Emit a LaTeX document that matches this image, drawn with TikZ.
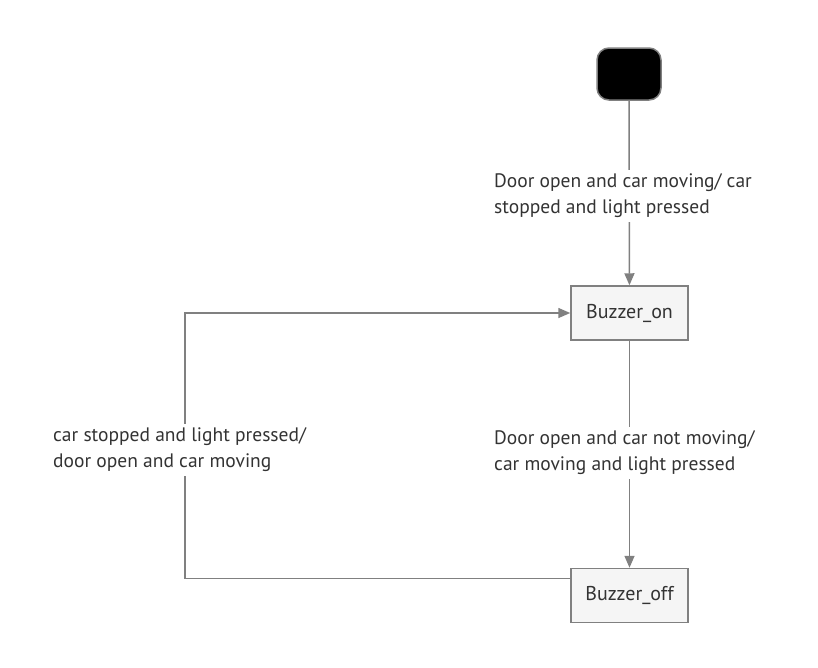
\documentclass[tikz,border=0pt]{standalone}
\usepackage{fontspec}
\setmainfont{PT Sans}
\usetikzlibrary{arrows.meta, positioning}
\definecolor{linegray}{HTML}{808080}
\definecolor{boxfill}{HTML}{F5F5F5}
\definecolor{textgray}{HTML}{333333}
\tikzset{>={Triangle[length=12pt,width=10pt]}}
\tikzset{
    state/.style={draw=linegray, fill=boxfill, line width=1.5pt, minimum width=117pt, minimum height=54pt, text=textgray, font=\fontsize{20}{26}\selectfont},
    startstate/.style={draw=linegray, fill=black, line width=1.5pt, rounded corners=12pt, minimum width=64pt, minimum height=52pt},
    lab/.style={fill=white, align=left, anchor=west, inner xsep=2pt, inner ysep=4pt, text=textgray, font=\fontsize{19.5}{26}\selectfont},
    trans/.style={->, draw=linegray, line width=1.5pt}
}

\begin{document}
\begin{tikzpicture}[x=1pt, y=-1pt]
    \useasboundingbox (0,0) rectangle (818,667);
    \node[startstate] (init) at (629,74) {};
    \node[state] (on) at (629.5,313) {Buzzer\_on};
    \node[state] (off) at (629.5,595.5) {Buzzer\_off};
    \coordinate (bend) at (185,450);
    % transitions
    \draw[trans] (init) -- (on);
    \draw[trans] (on) -- (off);
    \draw[trans] ([yshift=17pt]off.west) -| (bend) |- (on.west);
    % labels
    \node[lab] (lab1) at (492,196) {Door open and car moving/ car\\stopped and light pressed};
    \node[lab] (lab2) at (492,453) {Door open and car not moving/\\car moving and light pressed};
    \node[lab] (lab3) at (51,450) {car stopped and light pressed/\\door open and car moving};
\end{tikzpicture}
\end{document}
